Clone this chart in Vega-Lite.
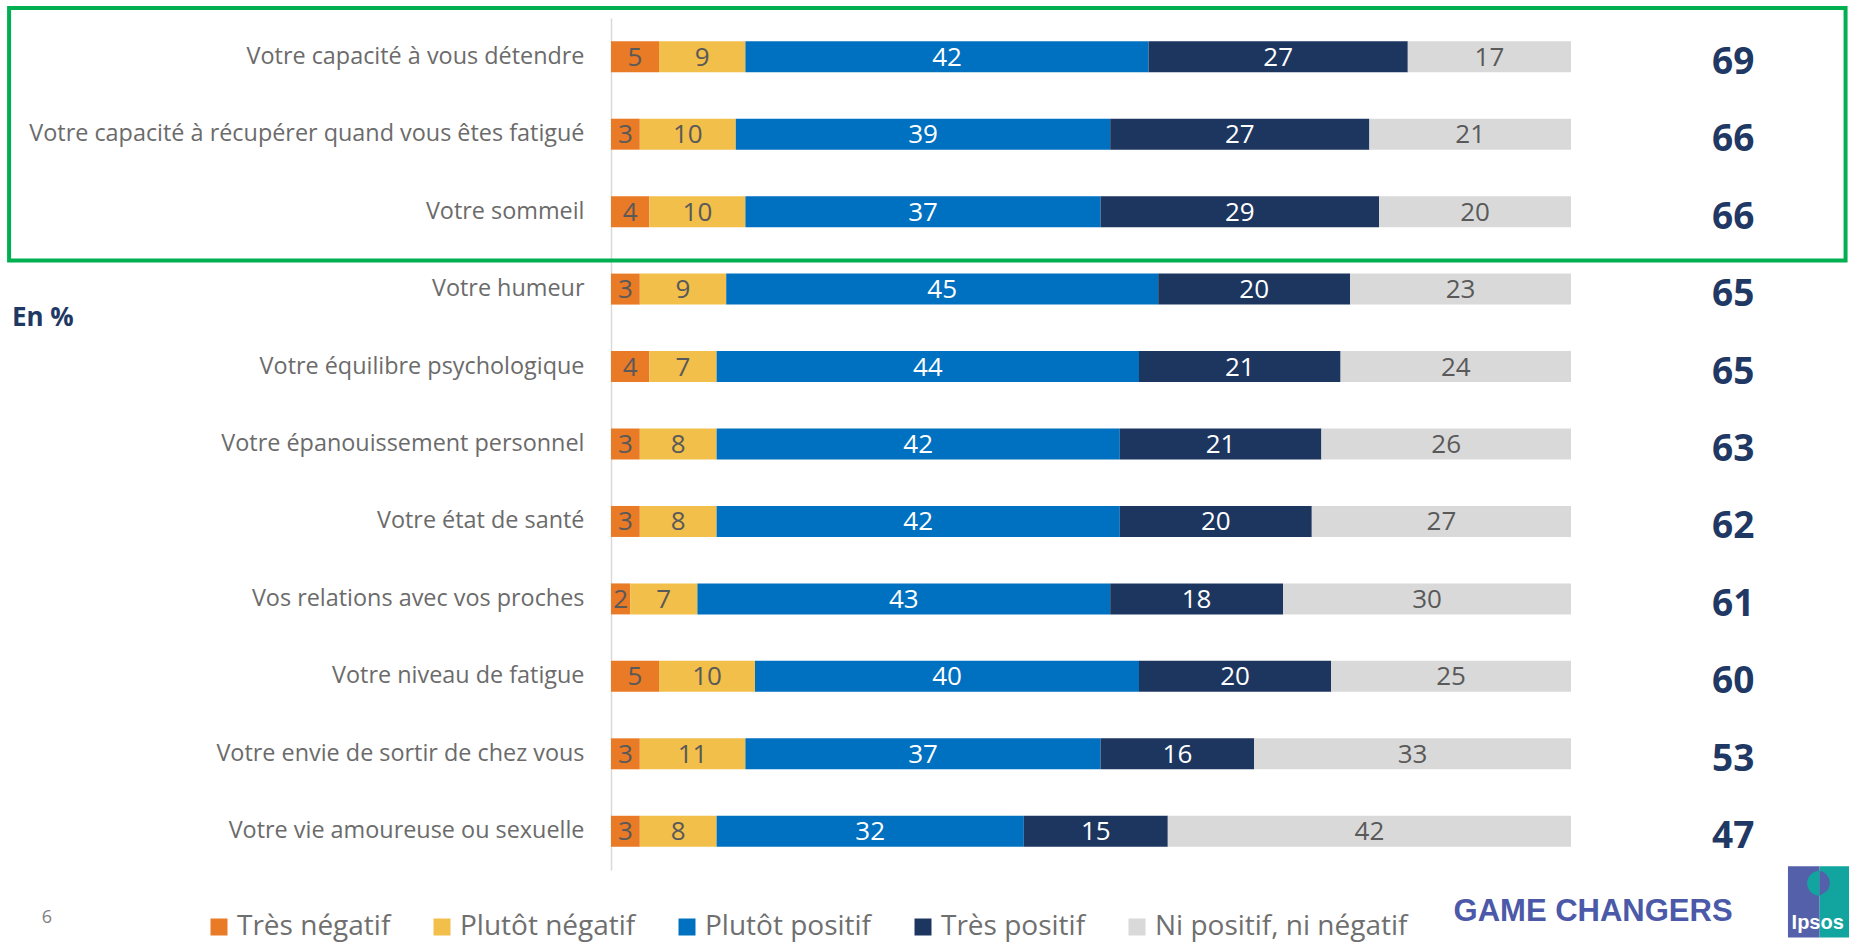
{
  "$schema": "https://vega.github.io/schema/vega-lite/v6.json",
  "width": 960,
  "height": 852,
  "autosize": {"type": "none"},
  "padding": {"left": 611, "top": 18, "right": 278, "bottom": 73},
  "background": "white",
  "config": {
    "font": "Open Sans",
    "view": {"stroke": null},
    "legend": {
      "orient": "none",
      "legendX": -406,
      "legendY": 895,
      "direction": "horizontal",
      "symbolType": "square",
      "symbolSize": 289,
      "symbolStrokeWidth": 0,
      "labelFontSize": 28,
      "labelFont": "Open Sans",
      "labelColor": "#6f6f6f",
      "columnPadding": 37,
      "labelOffset": 4,
      "labelLimit": 500
    }
  },
  "datasets": {
    "bars": [
      {"item": "Votre capacité à vous détendre", "reponse": "Très négatif", "pct": 5, "rang": 1},
      {"item": "Votre capacité à vous détendre", "reponse": "Plutôt négatif", "pct": 9, "rang": 2},
      {"item": "Votre capacité à vous détendre", "reponse": "Plutôt positif", "pct": 42, "rang": 3},
      {"item": "Votre capacité à vous détendre", "reponse": "Très positif", "pct": 27, "rang": 4},
      {"item": "Votre capacité à vous détendre", "reponse": "Ni positif, ni négatif", "pct": 17, "rang": 5},
      {"item": "Votre capacité à récupérer quand vous êtes fatigué", "reponse": "Très négatif", "pct": 3, "rang": 1},
      {"item": "Votre capacité à récupérer quand vous êtes fatigué", "reponse": "Plutôt négatif", "pct": 10, "rang": 2},
      {"item": "Votre capacité à récupérer quand vous êtes fatigué", "reponse": "Plutôt positif", "pct": 39, "rang": 3},
      {"item": "Votre capacité à récupérer quand vous êtes fatigué", "reponse": "Très positif", "pct": 27, "rang": 4},
      {"item": "Votre capacité à récupérer quand vous êtes fatigué", "reponse": "Ni positif, ni négatif", "pct": 21, "rang": 5},
      {"item": "Votre sommeil", "reponse": "Très négatif", "pct": 4, "rang": 1},
      {"item": "Votre sommeil", "reponse": "Plutôt négatif", "pct": 10, "rang": 2},
      {"item": "Votre sommeil", "reponse": "Plutôt positif", "pct": 37, "rang": 3},
      {"item": "Votre sommeil", "reponse": "Très positif", "pct": 29, "rang": 4},
      {"item": "Votre sommeil", "reponse": "Ni positif, ni négatif", "pct": 20, "rang": 5},
      {"item": "Votre humeur", "reponse": "Très négatif", "pct": 3, "rang": 1},
      {"item": "Votre humeur", "reponse": "Plutôt négatif", "pct": 9, "rang": 2},
      {"item": "Votre humeur", "reponse": "Plutôt positif", "pct": 45, "rang": 3},
      {"item": "Votre humeur", "reponse": "Très positif", "pct": 20, "rang": 4},
      {"item": "Votre humeur", "reponse": "Ni positif, ni négatif", "pct": 23, "rang": 5},
      {"item": "Votre équilibre psychologique", "reponse": "Très négatif", "pct": 4, "rang": 1},
      {"item": "Votre équilibre psychologique", "reponse": "Plutôt négatif", "pct": 7, "rang": 2},
      {"item": "Votre équilibre psychologique", "reponse": "Plutôt positif", "pct": 44, "rang": 3},
      {"item": "Votre équilibre psychologique", "reponse": "Très positif", "pct": 21, "rang": 4},
      {"item": "Votre équilibre psychologique", "reponse": "Ni positif, ni négatif", "pct": 24, "rang": 5},
      {"item": "Votre épanouissement personnel", "reponse": "Très négatif", "pct": 3, "rang": 1},
      {"item": "Votre épanouissement personnel", "reponse": "Plutôt négatif", "pct": 8, "rang": 2},
      {"item": "Votre épanouissement personnel", "reponse": "Plutôt positif", "pct": 42, "rang": 3},
      {"item": "Votre épanouissement personnel", "reponse": "Très positif", "pct": 21, "rang": 4},
      {"item": "Votre épanouissement personnel", "reponse": "Ni positif, ni négatif", "pct": 26, "rang": 5},
      {"item": "Votre état de santé", "reponse": "Très négatif", "pct": 3, "rang": 1},
      {"item": "Votre état de santé", "reponse": "Plutôt négatif", "pct": 8, "rang": 2},
      {"item": "Votre état de santé", "reponse": "Plutôt positif", "pct": 42, "rang": 3},
      {"item": "Votre état de santé", "reponse": "Très positif", "pct": 20, "rang": 4},
      {"item": "Votre état de santé", "reponse": "Ni positif, ni négatif", "pct": 27, "rang": 5},
      {"item": "Vos relations avec vos proches", "reponse": "Très négatif", "pct": 2, "rang": 1},
      {"item": "Vos relations avec vos proches", "reponse": "Plutôt négatif", "pct": 7, "rang": 2},
      {"item": "Vos relations avec vos proches", "reponse": "Plutôt positif", "pct": 43, "rang": 3},
      {"item": "Vos relations avec vos proches", "reponse": "Très positif", "pct": 18, "rang": 4},
      {"item": "Vos relations avec vos proches", "reponse": "Ni positif, ni négatif", "pct": 30, "rang": 5},
      {"item": "Votre niveau de fatigue", "reponse": "Très négatif", "pct": 5, "rang": 1},
      {"item": "Votre niveau de fatigue", "reponse": "Plutôt négatif", "pct": 10, "rang": 2},
      {"item": "Votre niveau de fatigue", "reponse": "Plutôt positif", "pct": 40, "rang": 3},
      {"item": "Votre niveau de fatigue", "reponse": "Très positif", "pct": 20, "rang": 4},
      {"item": "Votre niveau de fatigue", "reponse": "Ni positif, ni négatif", "pct": 25, "rang": 5},
      {"item": "Votre envie de sortir de chez vous", "reponse": "Très négatif", "pct": 3, "rang": 1},
      {"item": "Votre envie de sortir de chez vous", "reponse": "Plutôt négatif", "pct": 11, "rang": 2},
      {"item": "Votre envie de sortir de chez vous", "reponse": "Plutôt positif", "pct": 37, "rang": 3},
      {"item": "Votre envie de sortir de chez vous", "reponse": "Très positif", "pct": 16, "rang": 4},
      {"item": "Votre envie de sortir de chez vous", "reponse": "Ni positif, ni négatif", "pct": 33, "rang": 5},
      {"item": "Votre vie amoureuse ou sexuelle", "reponse": "Très négatif", "pct": 3, "rang": 1},
      {"item": "Votre vie amoureuse ou sexuelle", "reponse": "Plutôt négatif", "pct": 8, "rang": 2},
      {"item": "Votre vie amoureuse ou sexuelle", "reponse": "Plutôt positif", "pct": 32, "rang": 3},
      {"item": "Votre vie amoureuse ou sexuelle", "reponse": "Très positif", "pct": 15, "rang": 4},
      {"item": "Votre vie amoureuse ou sexuelle", "reponse": "Ni positif, ni négatif", "pct": 42, "rang": 5}
    ],
    "totals": [
      {"item": "Votre capacité à vous détendre", "total": 69},
      {"item": "Votre capacité à récupérer quand vous êtes fatigué", "total": 66},
      {"item": "Votre sommeil", "total": 66},
      {"item": "Votre humeur", "total": 65},
      {"item": "Votre équilibre psychologique", "total": 65},
      {"item": "Votre épanouissement personnel", "total": 63},
      {"item": "Votre état de santé", "total": 62},
      {"item": "Vos relations avec vos proches", "total": 61},
      {"item": "Votre niveau de fatigue", "total": 60},
      {"item": "Votre envie de sortir de chez vous", "total": 53},
      {"item": "Votre vie amoureuse ou sexuelle", "total": 47}
    ],
    "one": [{"k": 1}]
  },
  "layer": [
    {
      "layer": [
        {
          "data": {"name": "bars"},
          "mark": {"type": "bar"},
          "encoding": {
            "y": {
              "field": "item", "type": "nominal",
              "scale": {"domain": ["Votre capacité à vous détendre", "Votre capacité à récupérer quand vous êtes fatigué", "Votre sommeil", "Votre humeur", "Votre équilibre psychologique", "Votre épanouissement personnel", "Votre état de santé", "Vos relations avec vos proches", "Votre niveau de fatigue", "Votre envie de sortir de chez vous", "Votre vie amoureuse ou sexuelle"], "paddingInner": 0.6, "paddingOuter": 0.3},
              "axis": {"title": null, "ticks": false, "domain": true, "domainColor": "#d9d9d9", "domainWidth": 1.5, "labelFontSize": 23.4, "labelFont": "Open Sans", "labelColor": "#6b6b6b", "labelPadding": 27, "labelLimit": 800}
            },
            "x": {"field": "pct", "type": "quantitative", "stack": "zero", "scale": {"domain": [0, 100], "nice": false}, "axis": null},
            "color": {
              "field": "reponse", "type": "nominal",
              "scale": {"domain": ["Très négatif", "Plutôt négatif", "Plutôt positif", "Très positif", "Ni positif, ni négatif"], "range": ["#E97A26", "#F2BF4A", "#0070C0", "#1C3660", "#D9D9D9"]},
              "legend": {"title": null}
            },
            "order": {"field": "rang", "type": "quantitative"}
          }
        },
        {
          "data": {"name": "bars"},
          "mark": {"type": "text", "fontSize": 26, "font": "Open Sans", "align": "center", "baseline": "middle", "dy": 1},
          "encoding": {
            "y": {"field": "item", "type": "nominal"},
            "x": {"field": "pct", "type": "quantitative", "stack": "zero", "bandPosition": 0.5, "scale": {"domain": [0, 100], "nice": false}},
            "order": {"field": "rang", "type": "quantitative"},
            "detail": {"field": "reponse"},
            "text": {"field": "pct", "type": "quantitative"},
            "color": {"condition": {"test": "datum.reponse === 'Plutôt positif' || datum.reponse === 'Très positif'", "value": "#ffffff"}, "value": "#595959"}
          }
        },
        {
          "data": {"name": "totals"},
          "mark": {"type": "text", "fontSize": 37, "fontWeight": "bold", "font": "Open Sans", "color": "#1F3864", "align": "center", "baseline": "middle", "dy": 6},
          "encoding": {
            "y": {"field": "item", "type": "nominal"},
            "x": {"datum": 116.9, "type": "quantitative", "scale": {"domain": [0, 100], "nice": false}},
            "text": {"field": "total", "type": "quantitative"}
          }
        }
      ]
    },
    {
      "data": {"name": "one"},
      "layer": [
        {
          "mark": {"type": "rect", "filled": false, "stroke": "#00B050", "strokeWidth": 4},
          "encoding": {
            "x": {"datum": -62.7, "type": "quantitative", "scale": {"domain": [0, 100], "nice": false}},
            "x2": {"datum": 128.6},
            "y": {"datum": -0.13, "type": "quantitative", "scale": {"domain": [0, 11], "reverse": true, "nice": false, "zero": false}, "axis": null},
            "y2": {"datum": 3.13}
          }
        },
        {
          "mark": {"type": "text", "text": "En %", "fontSize": 26, "fontWeight": "bold", "font": "Open Sans", "color": "#1F3864", "align": "left", "baseline": "middle"},
          "encoding": {
            "x": {"datum": -62.4, "type": "quantitative", "scale": {"domain": [0, 100], "nice": false}},
            "y": {"datum": 3.87, "type": "quantitative", "scale": {"domain": [0, 11], "reverse": true, "nice": false, "zero": false}, "axis": null}
          }
        },
        {
          "mark": {"type": "text", "text": "6", "fontSize": 18, "font": "Open Sans", "color": "#7f7f7f", "align": "center", "baseline": "middle"},
          "encoding": {
            "x": {"datum": -58.75, "type": "quantitative", "scale": {"domain": [0, 100], "nice": false}},
            "y": {"datum": 11.62, "type": "quantitative", "scale": {"domain": [0, 11], "reverse": true, "nice": false, "zero": false}, "axis": null}
          }
        },
        {
          "mark": {"type": "text", "text": "GAME CHANGERS", "fontSize": 31, "fontWeight": "bold", "font": "Liberation Sans", "color": "#4B59A8", "align": "center", "baseline": "middle"},
          "encoding": {
            "x": {"datum": 102.3, "type": "quantitative", "scale": {"domain": [0, 100], "nice": false}},
            "y": {"datum": 11.54, "type": "quantitative", "scale": {"domain": [0, 11], "reverse": true, "nice": false, "zero": false}, "axis": null}
          }
        },
        {
          "mark": {"type": "rect", "color": "#5460AA"},
          "encoding": {
            "x": {"datum": 122.6, "type": "quantitative", "scale": {"domain": [0, 100], "nice": false}},
            "x2": {"datum": 125.9},
            "y": {"datum": 10.95, "type": "quantitative", "scale": {"domain": [0, 11], "reverse": true, "nice": false, "zero": false}, "axis": null},
            "y2": {"datum": 11.87}
          }
        },
        {
          "mark": {"type": "rect", "color": "#12A59F"},
          "encoding": {
            "x": {"datum": 125.9, "type": "quantitative", "scale": {"domain": [0, 100], "nice": false}},
            "x2": {"datum": 129.6},
            "y": {"datum": 10.95, "type": "quantitative", "scale": {"domain": [0, 11], "reverse": true, "nice": false, "zero": false}, "axis": null},
            "y2": {"datum": 11.87}
          }
        },
        {
          "mark": {"type": "point", "filled": true, "opacity": 1, "shape": "M0,-1 A1,1 0 0,0 0,1 Z", "size": 625, "color": "#12A59F", "strokeWidth": 0},
          "encoding": {
            "x": {"datum": 125.9, "type": "quantitative", "scale": {"domain": [0, 100], "nice": false}},
            "y": {"datum": 11.17, "type": "quantitative", "scale": {"domain": [0, 11], "reverse": true, "nice": false, "zero": false}, "axis": null}
          }
        },
        {
          "mark": {"type": "point", "filled": true, "opacity": 1, "shape": "M0,-1 A1,1 0 0,1 0.6,0.6 L0,1 Z", "size": 625, "color": "#5460AA", "strokeWidth": 0},
          "encoding": {
            "x": {"datum": 125.9, "type": "quantitative", "scale": {"domain": [0, 100], "nice": false}},
            "y": {"datum": 11.17, "type": "quantitative", "scale": {"domain": [0, 11], "reverse": true, "nice": false, "zero": false}, "axis": null}
          }
        },
        {
          "mark": {"type": "text", "text": "Ipsos", "fontSize": 20, "fontWeight": "bold", "font": "Liberation Sans", "color": "#ffffff", "align": "center", "baseline": "middle"},
          "encoding": {
            "x": {"datum": 125.7, "type": "quantitative", "scale": {"domain": [0, 100], "nice": false}},
            "y": {"datum": 11.69, "type": "quantitative", "scale": {"domain": [0, 11], "reverse": true, "nice": false, "zero": false}, "axis": null}
          }
        }
      ]
    }
  ],
  "resolve": {"scale": {"y": "independent"}}
}
